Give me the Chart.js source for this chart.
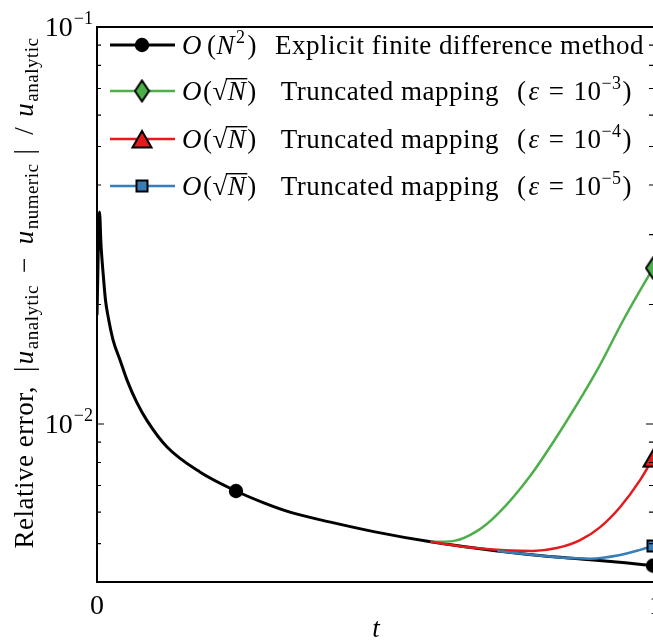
<!DOCTYPE html>
<html>
<head>
<meta charset="utf-8">
<script src="https://cdn.jsdelivr.net/npm/chart.js@4.4.0/dist/chart.umd.min.js"></script>
<style>
  html, body { margin: 0; padding: 0; background: #fff; overflow: hidden; }
  #wrap { width: 653px; height: 640px; }
</style>
</head>
<body>
<div id="wrap"><canvas id="errChart" width="653" height="640"></canvas></div>
<script>
// relative error vs t
const tExplicit   = [0, 0.0045, 0.0072, 0.0113, 0.0153, 0.0198, 0.0288, 0.0414, 0.054, 0.072, 0.09, 0.126, 0.185, 0.25, 0.3, 0.35, 0.42, 0.5, 0.6, 0.72, 0.8, 0.87, 0.95, 1];
const errExplicit = [0.0188, 0.0342, 0.0283, 0.0237, 0.0205, 0.0187, 0.0163, 0.0145, 0.0129, 0.0113, 0.0102, 0.00875, 0.00757, 0.00678, 0.00633, 0.00598, 0.00566, 0.00535, 0.00505, 0.00479, 0.00466, 0.00457, 0.00447, 0.0044];
const markExplicit = [0.25, 1];

const tEps3   = [0.6, 0.64, 0.684, 0.72, 0.779, 0.838, 0.9, 0.946, 1];
const errEps3 = [0.00505, 0.00507, 0.00538, 0.00592, 0.0074, 0.00983, 0.0137, 0.0182, 0.0247];

const tEps4   = [0.6, 0.676, 0.784, 0.827, 0.869, 0.905, 0.941, 0.977, 1];
const errEps4 = [0.00505, 0.00488, 0.00479, 0.00487, 0.0051, 0.0055, 0.00618, 0.00723, 0.0082];

const tEps5   = [0.72, 0.791, 0.833, 0.887, 0.941, 0.977, 1];
const errEps5 = [0.00479, 0.00467, 0.00461, 0.00458, 0.00468, 0.00482, 0.00493];

const yMajorTicks  = [0.1, 0.01];
const yMajorLabels = ['\u22121', '\u22122'];
const yMinorTicks  = [0.005, 0.006, 0.007, 0.008, 0.009, 0.02, 0.03, 0.04, 0.05, 0.06, 0.07, 0.08, 0.09];
const xTicks       = [0, 1];
const xTickLabels  = ['0', '1'];

const GREEN = '#4DAF4A', RED = '#E41A1C', BLUE = '#377EB8';

const R  = "27px 'Liberation Serif'";
const I  = "italic 27px 'Liberation Serif'";
const S  = "18px 'Liberation Serif'";
const SS = "19px 'Liberation Serif'";
const TK = "28px 'Liberation Serif'";

// marker sprites
function sprite(w, h, draw) {
    const c = document.createElement('canvas');
    c.width = w; c.height = h;
    const g = c.getContext('2d');
    g.lineWidth = 2; g.strokeStyle = '#000'; g.lineJoin = 'miter';
    draw(g);
    return c;
}
const mCircle = sprite(16, 16, g => { g.fillStyle = '#000'; g.beginPath(); g.arc(8, 8, 7.2, 0, Math.PI * 2); g.fill(); });
const mDiamond = sprite(17, 24, g => {
    g.fillStyle = GREEN; g.beginPath();
    g.moveTo(8.5, 1.5); g.lineTo(15.5, 12); g.lineTo(8.5, 22.5); g.lineTo(1.5, 12); g.closePath();
    g.fill(); g.stroke();
});
const mTriangle = sprite(22, 20, g => {
    g.fillStyle = RED; g.beginPath();
    g.moveTo(11, 2); g.lineTo(20.5, 18.5); g.lineTo(1.5, 18.5); g.closePath();
    g.fill(); g.stroke();
});
const mSquare = sprite(14, 14, g => { g.fillStyle = BLUE; g.fillRect(1.5, 1.5, 11, 11); g.strokeRect(1.5, 1.5, 11, 11); });

function pts(ts, vs) { return ts.map((t, i) => ({ x: t, y: vs[i] })); }

function drawRich(ctx, x, y, segs) {
    for (const s of segs) {
        ctx.font = s.f;
        ctx.fillText(s.t, x, y + (s.dy || 0));
        const w = ctx.measureText(s.t).width;
        if (s.over) ctx.fillRect(x - 2, y - 22, w + 3, 1.4);
        x += w + (s.gap || 0);
    }
    return x;
}
function richWidth(ctx, segs) {
    let w = 0;
    for (const s of segs) { ctx.font = s.f; w += ctx.measureText(s.t).width + (s.gap || 0); }
    return w;
}

function sqrtRow(p) {
    return [
        { t: 'O', f: I, gap: 1 }, { t: '(', f: R }, { t: '\u221A', f: R }, { t: 'N', f: I, over: true, gap: 1 },
        { t: ')', f: R, gap: 24 }, { t: 'Truncated mapping', f: R, gap: 18 },
        { t: '(', f: R, gap: 2 }, { t: '\u03B5', f: I, gap: 9 }, { t: '=', f: R, gap: 9 },
        { t: '10', f: R }, { t: '\u2212' + p, f: S, dy: -11, gap: 1 }, { t: ')', f: R }
    ];
}
const legendRows = [
    { color: '#000', width: 3, mark: mCircle, segs: [
        { t: 'O', f: I, gap: 5 }, { t: '(', f: R }, { t: 'N', f: I, gap: 1 }, { t: '2', f: S, dy: -11, gap: 2 },
        { t: ')', f: R, gap: 18 }, { t: 'Explicit finite difference method', f: R }] },
    { color: GREEN, width: 2.5, mark: mDiamond, segs: sqrtRow('3') },
    { color: RED, width: 2.5, mark: mTriangle, segs: sqrtRow('4') },
    { color: BLUE, width: 2.5, mark: mSquare, segs: sqrtRow('5') }
];

const decor = {
    id: 'decor',
    afterDatasetsDraw(chart) {
        const { ctx, chartArea: a, scales: { x, y } } = chart;
        ctx.save();
        ctx.fillStyle = '#000';
        ctx.strokeStyle = '#000';

        // frame (right side is cropped off)
        ctx.lineWidth = 2;
        ctx.beginPath();
        ctx.moveTo(a.right + 2, a.top); ctx.lineTo(a.left, a.top); ctx.lineTo(a.left, a.bottom); ctx.lineTo(a.right + 2, a.bottom);
        ctx.stroke();

        // y ticks, inward on both sides
        ctx.lineWidth = 1.2;
        ctx.beginPath();
        yMajorTicks.forEach(v => {
            const py = y.getPixelForValue(v);
            ctx.moveTo(a.left, py); ctx.lineTo(a.left + 7, py);
            ctx.moveTo(a.right, py); ctx.lineTo(a.right - 7, py);
        });
        yMinorTicks.forEach(v => {
            const py = y.getPixelForValue(v);
            ctx.moveTo(a.left, py); ctx.lineTo(a.left + 4, py);
            ctx.moveTo(a.right, py); ctx.lineTo(a.right - 4, py);
        });
        ctx.stroke();

        // y tick labels 10^-n
        ctx.textAlign = 'left';
        ctx.textBaseline = 'alphabetic';
        yMajorTicks.forEach((v, i) => {
            const py = y.getPixelForValue(v);
            const segs = [{ t: '10', f: TK, gap: 1 }, { t: yMajorLabels[i], f: S, dy: -12 }];
            drawRich(ctx, 93 - richWidth(ctx, segs), py + 9, segs);
        });

        // x tick labels
        ctx.font = TK;
        ctx.textAlign = 'center';
        xTicks.forEach((v, i) => {
            const px = x.getPixelForValue(v) + (v === 1 ? 3 : 0);
            ctx.fillText(xTickLabels[i], px, 614);
        });

        // x axis title
        ctx.font = I;
        ctx.fillText('t', 376, 637);

        // y axis title
        ctx.textAlign = 'left';
        ctx.letterSpacing = '0.5px';
        const ySegs = [
            { t: 'Relative error,', f: R, gap: 14 }, { t: '|', f: R, gap: 2 }, { t: 'u', f: I, gap: 1 },
            { t: 'analytic', f: SS, dy: 5, gap: 12 }, { t: '\u2212', f: R, gap: 13 }, { t: 'u', f: I, gap: 1 },
            { t: 'numeric', f: SS, dy: 5, gap: 9 }, { t: '|', f: R, gap: 14 }, { t: '/', f: R, gap: 10 },
            { t: 'u', f: I, gap: 1 }, { t: 'analytic', f: SS, dy: 5 }
        ];
        const tw = richWidth(ctx, ySegs);
        ctx.save();
        ctx.translate(33, 293 + tw / 2);
        ctx.rotate(-Math.PI / 2);
        drawRich(ctx, 0, 0, ySegs);
        ctx.restore();

        // legend inside plot, top left
        const rowY = [45, 91, 139, 186];
        legendRows.forEach((row, i) => {
            const ly = rowY[i];
            ctx.strokeStyle = row.color;
            ctx.lineWidth = row.width;
            ctx.beginPath(); ctx.moveTo(110, ly); ctx.lineTo(175, ly); ctx.stroke();
            ctx.drawImage(row.mark, 142 - row.mark.width / 2, ly - row.mark.height / 2);
            ctx.fillStyle = '#000';
            drawRich(ctx, 182, ly + 9, row.segs);
        });
        ctx.letterSpacing = '0px';
        ctx.restore();
    }
};

function lineSet(label, ts, vs, color, width, mark, markAt, order) {
    return {
        label: label,
        data: pts(ts, vs),
        borderColor: color,
        backgroundColor: color,
        borderWidth: width,
        fill: false,
        cubicInterpolationMode: 'monotone',
        pointStyle: mark,
        pointRadius: ctx => markAt.includes(ts[ctx.dataIndex]) ? 8 : 0,
        order: order
    };
}

new Chart(document.getElementById('errChart'), {
    type: 'line',
    data: {
        datasets: [
            lineSet('O(N^2) Explicit finite difference method', tExplicit, errExplicit, '#000', 3, mCircle, markExplicit, 4),
            lineSet('O(sqrt N) Truncated mapping (eps = 1e-3)', tEps3, errEps3, GREEN, 2.5, mDiamond, [1], 3),
            lineSet('O(sqrt N) Truncated mapping (eps = 1e-4)', tEps4, errEps4, RED, 2.5, mTriangle, [1], 2),
            lineSet('O(sqrt N) Truncated mapping (eps = 1e-5)', tEps5, errEps5, BLUE, 2.5, mSquare, [1], 1)
        ]
    },
    options: {
        responsive: false,
        animation: false,
        events: [],
        layout: { autoPadding: false, padding: { left: 97, top: 27, right: 0, bottom: 58 } },
        scales: {
            x: { type: 'linear', min: 0, max: 1, display: false },
            y: { type: 'logarithmic', min: 0.004, max: 0.1, display: false }
        },
        plugins: { legend: { display: false }, tooltip: { enabled: false } }
    },
    plugins: [decor]
});
</script>
</body>
</html>
